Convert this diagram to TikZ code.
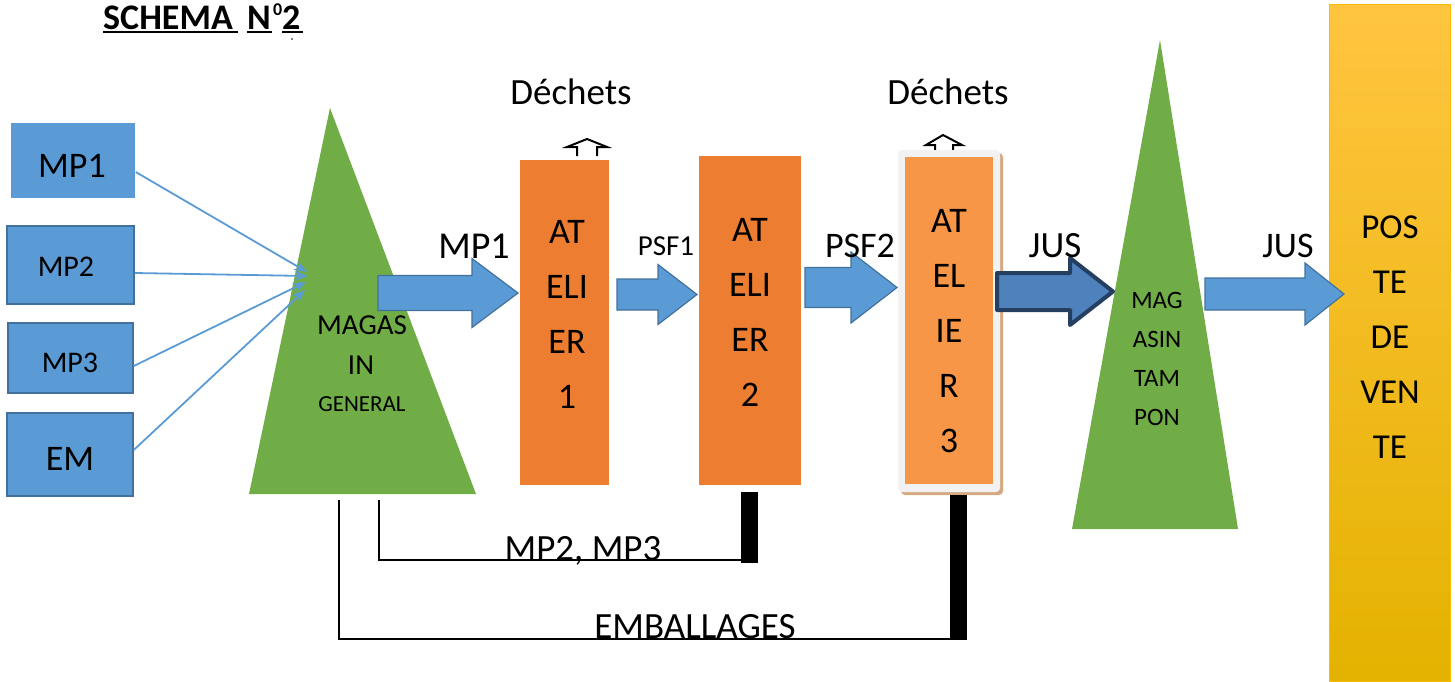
\documentclass[tikz,border=0pt]{standalone}
\usepackage{fontspec}
\setmainfont{Carlito}
\usetikzlibrary{arrows.meta}

\definecolor{mpblue}{HTML}{5B9BD5}
\definecolor{mpedge}{HTML}{41719C}
\definecolor{leaf}{HTML}{70AD47}
\definecolor{rust}{HTML}{ED7D31}
\definecolor{rustlight}{HTML}{F79646}
\definecolor{navyfill}{HTML}{4F81BD}
\definecolor{navyedge}{HTML}{243F60}
\definecolor{framegray}{HTML}{F2F2F2}
\definecolor{shadowtan}{HTML}{D6A982}
\definecolor{goldtop}{HTML}{FFC540}
\definecolor{goldmid}{HTML}{FFC000}
\definecolor{goldbot}{HTML}{E4B200}
\definecolor{goldedge}{HTML}{F5BC00}

% sized text: #1 = font size in px
\newcommand{\fsz}[1]{\fontsize{#1}{#1}\selectfont}

% horizontal block arrow: [style]{x start}{x tip}{x head base}{y centre}{half shaft}{half head}
\newcommand{\blockarrow}[7][]{%
  \draw[#1] (#2,{#5-#6}) -- (#4,{#5-#6}) -- (#4,{#5-#7}) -- (#3,#5)
    -- (#4,{#5+#7}) -- (#4,{#5+#6}) -- (#2,{#5+#6}) -- cycle;}

\begin{document}
\begin{tikzpicture}[x=1pt,y=-1pt,
  txt/.style={inner sep=0pt, anchor=base},
  mpbox/.style={fill=mpblue, draw=mpedge, line width=1.5pt, inner sep=0pt},
  feed/.style={draw=mpblue, line width=1.8pt, -{Stealth[length=13pt,width=10pt]}},
  workshop/.style={fill=rust, inner sep=0pt},
  stack/.style={inner sep=0pt, align=center, anchor=center},
  bluearrow/.style={fill=mpblue, draw=mpedge, line width=1.2pt, line join=miter},
  darkarrow/.style={fill=navyfill, draw=navyedge, line width=4pt, line join=round},
  wasteup/.style={draw=black, line width=2pt, line join=miter},
  returnline/.style={draw=black, line width=2pt},
  barstyle/.style={fill=black, inner sep=0pt, minimum width=17pt}
]
\useasboundingbox (0,0) rectangle (1455,681);

% ---------- title ----------
\node[txt, anchor=base west, font=\fsz{36}\bfseries] (title) at (103,29) {SCHEMA};
\node[txt, anchor=base west, font=\fsz{36}\bfseries] (titleN) at (247,29) {N};
\node[txt, anchor=base west, font=\fsz{18}\bfseries] (titleO) at (273,15) {0};
\node[txt, anchor=base west, font=\fsz{36}\bfseries] (title2) at (282,29) {2};
\draw[line width=2.5pt] (103,32) -- (238,32);
\draw[line width=2.5pt] (247,32) -- (272,32);
\draw[line width=2.5pt] (282,32) -- (303,32);
\fill (292,39) circle (0.8pt);

% ---------- raw material boxes ----------
\node[mpbox, draw=none, minimum width=124pt, minimum height=75pt] (mp1) at (73,160.5) {};
\node[mpbox, minimum width=127pt, minimum height=78pt] (mp2) at (70.5,265) {};
\node[mpbox, minimum width=125pt, minimum height=70pt] (mp3) at (70.5,358) {};
\node[mpbox, minimum width=126pt, minimum height=83pt] (em) at (70,454.5) {};
\node[txt, font=\fsz{36}] (mp1t) at (72,177) {MP1};
\node[txt, font=\fsz{30}] (mp2t) at (66,276.5) {MP2};
\node[txt, font=\fsz{30}] (mp3t) at (70,372.5) {MP3};
\node[txt, font=\fsz{36}] (emt) at (70,470) {EM};

% ---------- general store ----------
\fill[leaf] (330,108) -- (476,494) -- (249,494) -- cycle;
\node[txt, font=\fsz{29}] (mg1) at (362,334) {MAGAS};
\node[txt, font=\fsz{29}] (mg2) at (361,374) {IN};
\node[txt, font=\fsz{23}] (mg3) at (362,411.5) {GENERAL};

\coordinate (in1) at (307,272);
\coordinate (in2) at (308,276);
\coordinate (in3) at (306,282);
\coordinate (in4) at (305,290);
\draw[feed] ([yshift=-11.5pt]mp1.east) -- (in1);
\draw[feed] ([yshift=-8pt]mp2.east) -- (in2);
\draw[feed] ([yshift=-8pt]mp3.east) -- (in3);
\draw[feed] ([yshift=4.5pt]em.east) -- (in4);

% ---------- waste outlets ----------
\draw[wasteup] (577,156) -- (577,147) -- (567,147) -- (587,139) -- (607,147) -- (597,147) -- (597,156);
\draw[wasteup] (935,152) -- (935,145) -- (926,145) -- (943,135) -- (962,145) -- (953,145) -- (953,152);
\node[txt, font=\fsz{37}] (waste1) at (571,104) {Déchets};
\node[txt, font=\fsz{37}] (waste2) at (948,104) {Déchets};

% ---------- workshops ----------
\node[workshop, minimum width=89pt, minimum height=325pt] (at1) at (564.5,322.5) {};
\node[stack, font=\fontsize{36}{55}\selectfont] (at1t) at (567,314) {AT\\ELI\\ER\\1};

\node[workshop, minimum width=102pt, minimum height=329pt] (at2) at (750,320.5) {};
\node[stack, font=\fontsize{36}{55}\selectfont] (at2t) at (750,312) {AT\\ELI\\ER\\2};

\fill[shadowtan, rounded corners=4pt] (901,153) rectangle (1003,495);
\node[fill=framegray, rounded corners=4pt, inner sep=0pt, minimum width=102pt, minimum height=342pt] (at3f) at (949,321) {};
\node[fill=rustlight, inner sep=0pt, minimum width=88pt, minimum height=327pt] (at3) at (949,320.5) {};
\node[stack, font=\fontsize{36}{55}\selectfont] (at3t) at (949,331) {AT\\EL\\IE\\R\\3};

% ---------- buffer store ----------
\fill[leaf] (1160,40) -- (1238,529) -- (1072,529) -- cycle;
\node[stack, font=\fontsize{25}{38.7}\selectfont] (mt) at (1157,359) {MAG\\ASIN\\TAM\\PON};

% ---------- point of sale ----------
\node[draw=goldedge, line width=0.8pt, top color=goldtop, middle color=goldmid, bottom color=goldbot,
      inner sep=0pt, minimum width=121pt, minimum height=677pt] (pv) at (1389.5,342.5) {};
\node[stack, font=\fontsize{35}{55}\selectfont] (pvt) at (1390,337) {POS\\TE\\DE\\VEN\\TE};

% ---------- flow arrows ----------
\blockarrow[bluearrow]{378}{518}{472}{293}{17.5}{34.5}
\blockarrow[bluearrow]{617}{697}{658}{294.5}{15.5}{30}
\blockarrow[bluearrow]{805}{897}{851}{287.5}{20}{35.5}
\blockarrow[darkarrow]{997}{1113}{1070}{291.5}{18.5}{33.5}
\blockarrow[bluearrow]{1205}{1344}{1305}{294}{16}{31}

\node[txt, font=\fsz{38}] (l1) at (474,258) {MP1};
\node[txt, font=\fsz{29}] (l2) at (666,255.5) {PSF1};
\node[txt, font=\fsz{36}] (l3) at (860,257) {PSF2};
\node[txt, font=\fsz{37}] (l4) at (1055,257) {JUS};
\node[txt, font=\fsz{36}] (l5) at (1288,257) {JUS};

% ---------- return lines ----------
\node[barstyle, minimum height=71pt] (bar1) at (749.5,527.5) {};
\node[barstyle, minimum height=145pt] (bar2) at (958.5,567.5) {};
\coordinate (r1) at (379,500);
\coordinate (r2) at (339,500);
\draw[returnline] (r1) |- (bar1.west |- 0,559.5);
\draw[returnline] (r2) |- (bar2.west |- 0,639);
\node[txt, font=\fsz{37}] (lr1) at (583,560) {MP2, MP3};
\node[txt, font=\fsz{37}] (lr2) at (695,638) {EMBALLAGES};

\end{tikzpicture}
\end{document}
